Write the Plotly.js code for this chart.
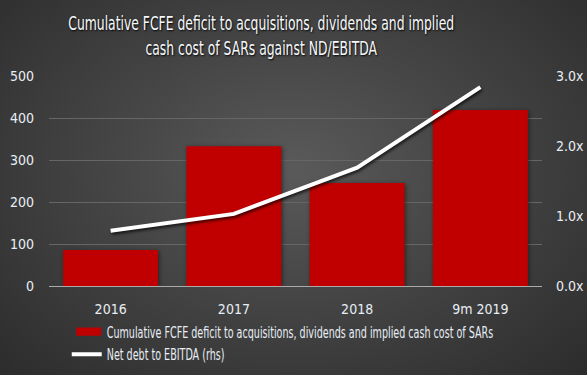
<!DOCTYPE html>
<html><head><meta charset="utf-8">
<script src="https://cdn.plot.ly/plotly-3.0.1.min.js"></script>
<style>
html,body{margin:0;padding:0;}
body{width:587px;height:375px;background:radial-gradient(ellipse at 50% 45%, #5a5a5a 0%, #474747 40%, #2c2c2c 100%);}
#chart{width:587px;height:375px;}
svg text{font-stretch:condensed !important;}
.legendtext{transform:scaleX(0.71);transform-box:fill-box;transform-origin:0 50%;}
.gtitle{transform:scaleX(0.725);transform-box:fill-box;transform-origin:50% 50%;}
.legendpoints path{transform:translate(22px,0px) scale(2.08,0.68);}
.scatterlayer .trace path.js-line{filter:drop-shadow(1px 2px 1.5px rgba(0,0,0,0.7));}
.barlayer .point path{filter:drop-shadow(1px 1px 2px rgba(0,0,0,0.5));}
</style></head>
<body><div id="chart"></div>
<script>
const categories = ['2016','2017','2018','9m 2019'];
const deficit = [86, 333, 245, 419];
const ndEbitda = [0.79, 1.03, 1.69, 2.84];
const barName = 'Cumulative FCFE deficit to acquisitions, dividends and implied cash cost of SARs';
const lineName = 'Net debt to EBITDA (rhs)';
const titleText = 'Cumulative FCFE deficit to acquisitions, dividends and implied<br>cash cost of SARs against ND/EBITDA';
const leftTicks = [0,100,200,300,400,500];
const rightTicks = [0,1,2,3];
const rightTickText = ['0.0x','1.0x','2.0x','3.0x'];

const FONT = '"DejaVu Sans Condensed", "DejaVu Sans", sans-serif';
const TXT = '#e8eef5';

const data = [
  {type:'bar', x:categories, y:deficit, name:barName, marker:{color:'#c00000'}, yaxis:'y'},
  {type:'scatter', mode:'lines', x:categories, y:ndEbitda, name:lineName, yaxis:'y2',
   line:{color:'#ffffff', width:4}}
];
const layout = {
  width:587, height:375,
  paper_bgcolor:'rgba(0,0,0,0)', plot_bgcolor:'rgba(0,0,0,0)',
  margin:{l:49, r:45, t:76, b:89, autoexpand:false},
  font:{family:FONT, color:TXT, size:14},
  title:{text:titleText, x:0.445, xref:'container', xanchor:'center', y:0.92, yref:'container', yanchor:'top',
    font:{family:FONT, size:19, color:'#f6f9fc', shadow:'1px 1px 2px #000'}},
  bargap:0.23,
  showlegend:true,
  legend:{orientation:'v', x:0.036, xanchor:'left', y:-0.14, yanchor:'top',
    bgcolor:'rgba(0,0,0,0)', font:{family:FONT, size:15, color:TXT}, tracegroupgap:3, itemwidth:30},
  xaxis:{type:'category', showgrid:false, showline:true, linecolor:'#aaaaaa', linewidth:1,
    ticks:'outside', ticklen:10, tickcolor:'rgba(0,0,0,0)', tickfont:{family:FONT, size:14, color:TXT}, zeroline:false},
  yaxis:{range:[0,500], tickvals:leftTicks, showgrid:true, gridcolor:'#666666', gridwidth:1, zeroline:false,
    showline:false, ticks:'', tickfont:{family:FONT, size:14, color:TXT}, ticklabelstandoff:14},
  yaxis2:{range:[0,3], overlaying:'y', side:'right', tickvals:rightTicks, ticktext:rightTickText,
    showgrid:false, zeroline:false, showline:false, tickfont:{family:FONT, size:14, color:TXT}, ticklabelstandoff:13}
};
Plotly.newPlot('chart', data, layout, {displayModeBar:false, staticPlot:true});
</script></body></html>
